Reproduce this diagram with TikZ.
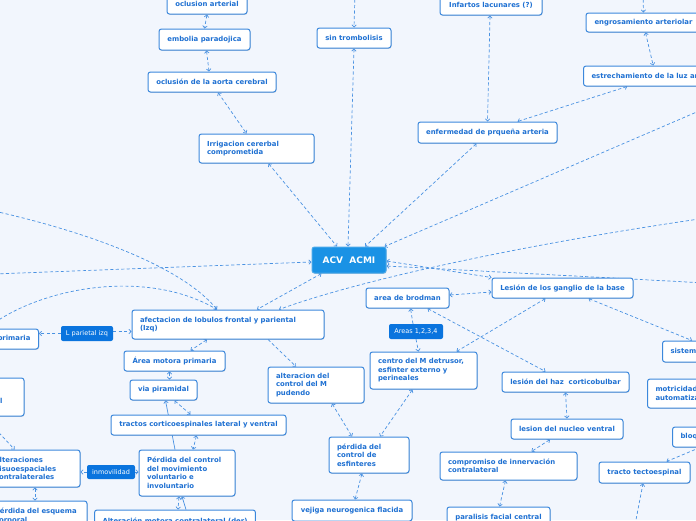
\documentclass[tikz,border=0pt]{standalone}
\usepackage{fontspec}
\setmainfont{DejaVu Sans}
\usetikzlibrary{arrows.meta,shadows,calc}
\definecolor{bgc}{RGB}{242,246,253}
\definecolor{boxc}{RGB}{60,136,220}
\definecolor{txtc}{RGB}{30,112,210}
\definecolor{lnc}{RGB}{74,146,226}
\definecolor{ctrc}{RGB}{26,146,229}
\definecolor{lblc}{RGB}{10,116,222}
\pgfdeclarelayer{bgl}
\pgfdeclarelayer{lnl}
\pgfsetlayers{bgl,lnl,main}
\tikzset{
  box/.style={draw=boxc, line width=1pt, fill=white, rounded corners=2.5pt, text=txtc,
    font=\fontsize{6.9}{8.5}\selectfont\bfseries, inner xsep=8pt, inner ysep=2pt,
    drop shadow={shadow xshift=0.5pt, shadow yshift=-0.8pt, opacity=0.3, fill=black!50}},
  mbox/.style={box, align=left},
  ctr/.style={box, fill=ctrc, draw=ctrc!80!white, text=white, font=\fontsize{9}{11}\selectfont\bfseries},
  lbl/.style={fill=lblc, rounded corners=2pt, text=white, font=\fontsize{6.5}{8}\selectfont, inner sep=1pt},
  lk/.style={draw=lnc, line width=0.7pt, dash pattern=on 3.2pt off 2.3pt,
    {Straight Barb[length=2.2pt,width=4.5pt]}-{Straight Barb[length=2.2pt,width=4.5pt]}},
  lkb/.style={lk, -{Straight Barb[length=2.2pt,width=4.5pt]}},
  lks/.style={draw=lnc, line width=0.7pt, -{Straight Barb[length=2.2pt,width=4.5pt]}},
}
\begin{document}
\begin{tikzpicture}[x=1pt,y=-1pt]
\useasboundingbox (0,0) rectangle (696,520);
\begin{pgfonlayer}{bgl}
\fill[bgc] (0,0) rectangle (696,520);
\end{pgfonlayer}

% nodes
\node[box, minimum width=80pt, minimum height=20pt] (oclA) at (207,4) {oclusion arterial};
\node[box, minimum width=91pt, minimum height=21pt] (emb) at (204.5,39.5) {embolia paradojica};
\node[box, minimum width=128pt, minimum height=20pt] (aorta) at (212,82) {oclusión de la aorta cerebral};
\node[mbox, text width=99pt, minimum height=29pt] (irr) at (256.5,148.5) {Irrigacion cererbal\\comprometida};
\node[box, minimum width=74pt, minimum height=20pt] (sin) at (354,38) {sin trombolisis};
\node[box, minimum width=102pt, minimum height=20pt] (inf) at (491,5) {Infartos lacunares (?)};
\node[box, minimum width=115pt, minimum height=19pt] (engr) at (643.5,22.5) {engrosamiento arteriolar};
\node[box, minimum height=20pt, anchor=west] (estr) at (583,76) {estrechamiento de la luz arterial};
\node[box, minimum width=139pt, minimum height=21pt] (enf) at (487.5,132.5) {enfermedad de prqueña arteria};
\node[ctr, minimum width=74pt, minimum height=26pt] (acv) at (349,260) {ACV\ \ ACMI};
\node[box, minimum width=141pt, minimum height=20pt] (les) at (562.5,288) {Lesión de los ganglio de la base};
\node[box, minimum width=83pt, minimum height=20pt] (brod) at (407.5,298) {area de brodman};
\node[lbl, minimum width=54pt, minimum height=15pt] (areas) at (416,331.5) {Areas 1,2,3,4};
\node[mbox, text width=176pt, minimum height=29pt] (afect) at (228,324.5) {afectacion de lobulos frontal y pariental\\(Izq)};
\node[lbl, minimum width=52pt, minimum height=15pt] (lpar) at (87,333.5) {L parietal izq};
\node[box, minimum height=20pt, anchor=east] (prim) at (39,339) {corteza sensitiva primaria};
\node[box, minimum width=101pt, minimum height=20pt] (amp) at (174.5,361) {Área motora primaria};
\node[box, minimum width=67pt, minimum height=20pt] (via) at (163.5,390) {via piramidal};
\node[box, minimum width=175pt, minimum height=20pt] (tract) at (198.5,425) {tractos corticoespinales lateral y ventral};
\node[mbox, text width=80pt, minimum height=46pt] (perd) at (187,473) {Pérdida del control\\del movimiento\\voluntario e\\involuntario};
\node[lbl, minimum width=48pt, minimum height=14pt] (inm) at (111,472) {inmovilidad};
\node[mbox, text width=77pt, minimum height=37pt] (alt) at (33.5,468.5) {alteraciones\\visuoespaciales\\contralaterales};
\node[mbox, text width=84pt, minimum height=30pt] (esq) at (37,516) {pérdida del esquema\\corporal};
\node[mbox, text width=64pt, minimum height=38pt] (hemi) at (-16,397) {hemiparesia\\contralateral};
\node[box, minimum width=160pt, minimum height=22pt] (altm) at (175,521) {Alteración motora contralateral (der)};
\node[mbox, text width=80pt, minimum height=36pt] (pud) at (316,385) {alteracion del\\control del M\\pudendo};
\node[mbox, text width=91pt, minimum height=37pt] (centro) at (423.5,370.5) {centro del M detrusor,\\esfinter externo y\\perineales};
\node[mbox, text width=64pt, minimum height=36pt] (esf) at (369,455) {pérdida del\\control de\\esfinteres};
\node[box, minimum width=120pt, minimum height=21pt] (vej) at (352,510.5) {vejiga neurogenica flacida};
\node[box, minimum width=127pt, minimum height=20pt] (haz) at (565.5,382) {lesión del haz\ \ corticobulbar};
\node[box, minimum width=112pt, minimum height=20pt] (nuc) at (567,429) {lesion del nucleo ventral};
\node[mbox, text width=121pt, minimum height=28pt] (comp) at (508.5,466) {compromiso de innervación\\contralateral};
\node[box, minimum width=103pt, minimum height=21pt] (par) at (498.5,517.5) {paralisis facial central};
\node[box, minimum width=91pt, minimum height=21pt] (tect) at (644.5,472.5) {tracto tectoespinal};
\node[box, minimum height=20pt, anchor=west] (bloq) at (672,437) {bloqueo};
\node[mbox, minimum height=29pt, anchor=west] (motr) at (647,393.5) {motricidad\\automatizada};
\node[box, minimum height=21pt, anchor=west] (sis) at (662,351.5) {sistema extrapiramidal};

% free ends
\coordinate (t1) at (355,-6);
\coordinate (t2) at (643,-6);
\coordinate (r1) at (706,108);
\coordinate (r2) at (706,283);
\coordinate (r3) at (706,218);
\coordinate (l1) at (-6,274);
\coordinate (l2) at (-6,211);
\coordinate (l3) at (-6,323);
\coordinate (b1) at (634,530);

\begin{pgfonlayer}{lnl}
\draw[lk] (oclA.south) -- (emb.north);
\draw[lk] ([xshift=2pt]emb.south) -- ([xshift=-3pt]aorta.north);
\draw[lk] ([xshift=6pt]aorta.south) -- ([xshift=-10pt]irr.north);
\draw[lk] ([xshift=12pt]irr.south) -- ([xshift=-12pt]acv.north);
\draw[lkb] (t1) -- (sin.north);
\draw[lk] (sin.south) -- ([xshift=-1pt]acv.north);
\draw[lk] ([xshift=-1pt]inf.south) -- (enf.north);
\draw[lkb] (t2) -- (engr.north);
\draw[lk] ([xshift=2pt]engr.south) -- ([xshift=-2pt]estr.north);
\draw[lk] ([xshift=-28pt]estr.south) -- ([xshift=30pt]enf.north);
\draw[lk] ([xshift=-11pt]enf.south) -- ([xshift=16pt]acv.north);
\draw[lk] (r1) -- ([xshift=-2pt]acv.north east);
\draw[lk] ([yshift=-1pt]acv.east) -- (les.north west);
\draw[lk] ([yshift=-6pt]acv.east) -- (r2);
\draw[lk] (l1) -- ([yshift=-2pt]acv.west);
\draw[lk] (r3) .. controls (520,245) and (360,280) .. ([xshift=51pt]afect.north);
\draw[lk] (l2) .. controls (100,235) and (185,270) .. ([xshift=-11pt]afect.north);
\draw[lk] (l3) .. controls (50,285) and (150,270) .. ([xshift=-11pt]afect.north);
\draw[lk] ([xshift=10pt]acv.south west) -- ([xshift=29pt]afect.north);
\draw[lkb] ([yshift=2pt]lpar.east) -- ([yshift=2pt]lpar.east -| afect.west);
\draw[lkb] (lpar.west) -- (lpar.west -| prim.east);
\draw[lk] ([xshift=-21pt]afect.south) -- ([xshift=16pt]amp.north);
\draw[lkb] ([xshift=40pt]afect.south) -- ([xshift=-20pt]pud.north);
\draw[lk] ([xshift=-5pt]amp.south) -- ([xshift=6pt]via.north);
\draw[lk] ([xshift=11pt]via.south) -- ([xshift=-8pt]tract.north);
\draw[lks] ([xshift=-12pt]perd.north) -- ([xshift=2pt]via.south);
\draw[lk] ([xshift=-2pt]tract.south) -- ([xshift=6pt]perd.north);
\draw[lkb] (inm.east) -- (inm.east -| perd.west);
\draw[lkb] (inm.west) -- (inm.west -| alt.east);
\draw[lk] ([xshift=1.5pt]alt.south) -- ([xshift=-2pt]esq.north);
\draw[lkb] (hemi.south) -- ([xshift=-19pt]alt.north);
\draw[lk] ([xshift=-8pt]perd.south) -- ([xshift=3pt]altm.north);
\draw[lks] ([xshift=11pt]altm.north) -- ([xshift=-5pt]perd.south);
\draw[lk] ([xshift=16pt]pud.south) -- ([xshift=-17pt]esf.north);
\draw[lk] ([xshift=-11pt]centro.south) -- ([xshift=11pt]esf.north);
\draw[lk] ([xshift=-7pt]esf.south) -- ([xshift=3pt]vej.north);
\draw[lkb] ([xshift=-3pt]areas.north) -- ([xshift=3pt]brod.south);
\draw[lkb] (areas.south) -- ([xshift=-5pt]centro.north);
\draw[lk] ([yshift=3pt]brod.east) -- ([yshift=-4pt]les.west);
\draw[lk] ([xshift=20pt]brod.south) -- ([xshift=-20pt]haz.north);
\draw[lk] ([xshift=-17pt]les.south) -- ([xshift=33pt]centro.north);
\draw[lk] ([xshift=26pt]les.south) -- ([xshift=30pt]sis.north west);
\draw[lk] (haz.south) -- (nuc.north);
\draw[lk] ([xshift=-17pt]nuc.south) -- ([xshift=23pt]comp.north);
\draw[lk] ([xshift=-3pt]comp.south) -- ([xshift=1pt]par.north);
\draw[lkb] ([xshift=28pt]bloq.south west) -- ([xshift=22pt]tect.north);
\draw[lkb] (b1) -- ([xshift=-1.5pt]tect.south);
\end{pgfonlayer}
\end{tikzpicture}
\end{document}
